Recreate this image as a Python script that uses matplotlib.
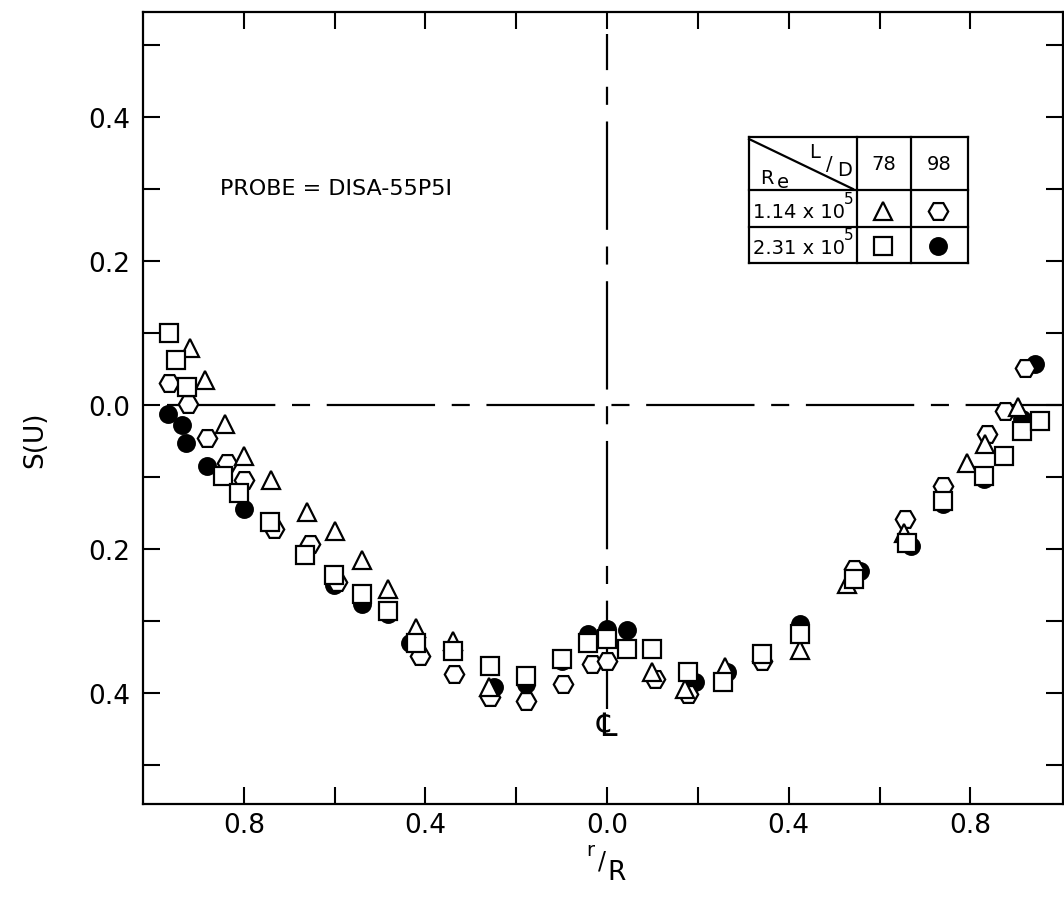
import matplotlib.pyplot as plt
from matplotlib.lines import Line2D

plt.rcParams['font.family'] = ['DejaVu Sans']
plt.rcParams['lines.scale_dashes'] = False

# r/R (left half of the pipe drawn as negative r/R) and S(U)
# triangles: L/D = 78, Re = 1.14 x 10^5
tri_x = [-0.918, -0.885, -0.841, -0.800, -0.739, -0.661, -0.599, -0.540, -0.482, -0.421,
         -0.340, -0.261, 0.098, 0.172, 0.260, 0.424, 0.528, 0.653, 0.792, 0.833, 0.906]
tri_y = [0.080, 0.035, -0.026, -0.070, -0.104, -0.148, -0.175, -0.215, -0.256, -0.309,
         -0.327, -0.392, -0.371, -0.394, -0.364, -0.340, -0.249, -0.177, -0.080, -0.054, -0.003]

# squares: L/D = 78, Re = 2.31 x 10^5
sq_x = [-0.964, -0.949, -0.926, -0.845, -0.810, -0.742, -0.665, -0.601, -0.540, -0.482,
        -0.421, -0.340, -0.258, -0.178, -0.100, -0.043, 0.0, 0.043, 0.098, 0.179,
        0.256, 0.341, 0.424, 0.543, 0.660, 0.739, 0.830, 0.875, 0.913, 0.954]
sq_y = [0.100, 0.062, 0.025, -0.098, -0.122, -0.162, -0.208, -0.236, -0.262, -0.286,
        -0.330, -0.341, -0.362, -0.376, -0.353, -0.330, -0.325, -0.339, -0.339, -0.371,
        -0.385, -0.346, -0.318, -0.242, -0.191, -0.133, -0.098, -0.071, -0.036, -0.022]

# hexagons: L/D = 98, Re = 1.14 x 10^5
hex_x = [-0.964, -0.922, -0.882, -0.836, -0.800, -0.733, -0.654, -0.595, -0.413, -0.337,
         -0.258, -0.178, -0.098, -0.034, 0.0, 0.106, 0.179, 0.341, 0.543, 0.656,
         0.739, 0.836, 0.877, 0.921]
hex_y = [0.031, 0.001, -0.046, -0.081, -0.104, -0.172, -0.193, -0.245, -0.348, -0.374,
         -0.406, -0.411, -0.388, -0.360, -0.355, -0.381, -0.401, -0.356, -0.228, -0.158,
         -0.112, -0.040, -0.008, 0.052]

# filled circles: L/D = 98, Re = 2.31 x 10^5
dot_x = [-0.966, -0.935, -0.927, -0.880, -0.800, -0.601, -0.540, -0.482, -0.434, -0.250,
         -0.178, -0.100, -0.043, 0.0, 0.045, 0.194, 0.265, 0.424, 0.557, 0.670,
         0.739, 0.830, 0.913, 0.943]
dot_y = [-0.012, -0.028, -0.053, -0.084, -0.144, -0.250, -0.276, -0.290, -0.330, -0.392,
         -0.388, -0.356, -0.318, -0.311, -0.313, -0.385, -0.370, -0.304, -0.230, -0.195,
         -0.138, -0.103, -0.019, 0.057]

xticks = [-0.8, -0.4, 0.0, 0.4, 0.8]
xticklabels = ['0.8', '0.4', '0.0', '0.4', '0.8']
yticks = [-0.4, -0.2, 0.0, 0.2, 0.4]
yticklabels = ['0.4', '0.2', '0.0', '0.2', '0.4']

W, H = 1064, 904
fig = plt.figure(figsize=(W / 100, H / 100), dpi=100)
ax = fig.add_axes([142.5 / W, 1 - 805 / H, (1063 - 142.5) / W, (805 - 13) / H])

def fx(px):
    return px / W

def fy(py):
    return 1 - py / H

# centre line dashes
dash = (0, (78, 12, 13, 12))
ax.plot([-0.97, 1.0], [0, 0], color='black', lw=1.6, linestyle=dash, zorder=1)
ax.plot([0, 0], [-0.422, 0.515], color='black', lw=1.6, linestyle=dash, zorder=1)

mk = dict(linestyle='none', markeredgecolor='black', markeredgewidth=1.6)
ax.plot(dot_x, dot_y, marker='o', markersize=12, markerfacecolor='black', zorder=2, **mk)
ax.plot(hex_x, hex_y, marker='H', markersize=14, markerfacecolor='white', zorder=3, **mk)
ax.plot(tri_x, tri_y, marker='^', markersize=13, markerfacecolor='white', zorder=4, **mk)
ax.plot(sq_x, sq_y, marker='s', markersize=13, markerfacecolor='white', zorder=5, **mk)

ax.set_xlim(-1.023, 1.004)
ax.set_ylim(-0.554, 0.546)
ax.set_xticks(xticks)
ax.set_xticklabels(xticklabels)
ax.set_xticks([-0.6, -0.2, 0.2, 0.6], minor=True)
ax.set_yticks(yticks)
ax.set_yticklabels(yticklabels)
ax.set_yticks([-0.5, -0.3, -0.1, 0.1, 0.3, 0.5], minor=True)
ax.tick_params(which='both', direction='in', length=12, width=1.5,
               top=True, right=True, labelsize=19)
ax.tick_params(axis='y', pad=9)
ax.tick_params(axis='x', pad=6)
for s in ax.spines.values():
    s.set_linewidth(1.6)

# centre line symbol
ax.text(0.0, -0.447, '\u2104', fontsize=23, ha='center', va='center')

ax.text(-0.852, 0.301, 'PROBE = DISA-55P5I', fontsize=16, ha='left', va='center')

# axis labels
fig.text(fx(35), fy(440), 'S(U)', fontsize=19, rotation=90, ha='center', va='center')
fig.text(fx(590), fy(851), 'r', fontsize=14, ha='center', va='center')
fig.text(fx(602), fy(862), '/', fontsize=17, ha='center', va='center')
fig.text(fx(617), fy(873), 'R', fontsize=19, ha='center', va='center')

# legend table
lw = 1.6
def seg(x0, y0, x1, y1):
    fig.add_artist(Line2D([fx(x0), fx(x1)], [fy(y0), fy(y1)], color='black', lw=lw))

seg(749, 138, 968, 138)
seg(749, 264, 968, 264)
seg(749, 138, 749, 264)
seg(968, 138, 968, 264)
seg(857, 138, 857, 264)
seg(911, 138, 911, 264)
seg(749, 191, 968, 191)
seg(749, 228, 968, 228)
seg(749, 140, 853, 190)

fs = 14
fig.text(fx(815), fy(153), 'L', fontsize=fs, ha='center', va='center')
fig.text(fx(829), fy(165), '/', fontsize=fs, ha='center', va='center')
fig.text(fx(845), fy(170), 'D', fontsize=fs, ha='center', va='center')
fig.text(fx(767), fy(179), 'R', fontsize=fs, ha='center', va='center')
fig.text(fx(783), fy(183), 'e', fontsize=fs, ha='center', va='center')
fig.text(fx(884), fy(165), '78', fontsize=fs, ha='center', va='center')
fig.text(fx(939), fy(165), '98', fontsize=fs, ha='center', va='center')
fig.text(fx(753), fy(212), '1.14 x 10', fontsize=fs, ha='left', va='center')
fig.text(fx(849), fy(199), '5', fontsize=11, ha='center', va='center')
fig.text(fx(753), fy(248), '2.31 x 10', fontsize=fs, ha='left', va='center')
fig.text(fx(849), fy(235), '5', fontsize=11, ha='center', va='center')

fig.add_artist(Line2D([fx(883)], [fy(212)], marker='^', markersize=13,
                      markerfacecolor='white', **mk))
fig.add_artist(Line2D([fx(938)], [fy(212)], marker='H', markersize=14,
                      markerfacecolor='white', **mk))
fig.add_artist(Line2D([fx(883)], [fy(247)], marker='s', markersize=13,
                      markerfacecolor='white', **mk))
fig.add_artist(Line2D([fx(938)], [fy(247)], marker='o', markersize=12,
                      markerfacecolor='black', **mk))

plt.savefig('out.png', dpi=100)
